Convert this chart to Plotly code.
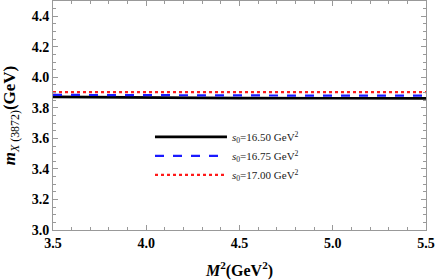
import plotly.graph_objects as go

m2 = [3.5, 4.0, 4.5, 5.0, 5.5]
mass_s1650 = [3.872, 3.867, 3.864, 3.863, 3.862]
mass_s1675 = [3.885, 3.882, 3.881, 3.880, 3.880]
mass_s1700 = [3.903, 3.903, 3.903, 3.903, 3.903]
labels = ["<i>s</i><sub>0</sub>=16.50 GeV<sup>2</sup>",
          "<i>s</i><sub>0</sub>=16.75 GeV<sup>2</sup>",
          "<i>s</i><sub>0</sub>=17.00 GeV<sup>2</sup>"]
x_ticks = [3.5, 4.0, 4.5, 5.0, 5.5]
x_ticklabels = ["3.5", "4.0", "4.5", "5.0", "5.5"]
y_ticks = [3.0, 3.2, 3.4, 3.6, 3.8, 4.0, 4.2, 4.4]
y_ticklabels = ["3.0", "3.2", "3.4", "3.6", "3.8", "4.0", "4.2", "4.4"]

serif = "Liberation Serif"
fig = go.Figure()
fig.add_trace(go.Scatter(x=m2, y=mass_s1650, mode="lines", name=labels[0],
                         line=dict(color="black", width=2.6, dash="solid")))
fig.add_trace(go.Scatter(x=m2, y=mass_s1675, mode="lines", name=labels[1],
                         line=dict(color="#1a1aff", width=2.2, dash="dash")))
fig.add_trace(go.Scatter(x=m2, y=mass_s1700, mode="lines", name=labels[2],
                         line=dict(color="#ff1a1a", width=2.2, dash="dot")))

axis_common = dict(showgrid=False, zeroline=False, showline=True, linecolor="#999999",
                   linewidth=1, mirror="ticks", ticks="inside", tickcolor="#999999",
                   ticklen=5, tickwidth=1, ticklabeloverflow="allow", automargin=False,
                   tickfont=dict(family=serif, size=14, color="black"))

fig.update_layout(
    width=436, height=280,
    margin=dict(l=53, r=10, t=1, b=50),
    paper_bgcolor="white", plot_bgcolor="white",
    showlegend=True,
    legend=dict(x=0.26, y=0.47, xanchor="left", yanchor="top",
                bgcolor="rgba(0,0,0,0)", font=dict(family=serif, size=11, color="#222"),
                itemwidth=72, tracegroupgap=0),
    xaxis=dict(range=[3.5, 5.5], tickmode="array", tickvals=x_ticks,
               ticktext=["<b>" + t + "</b>" for t in x_ticklabels],
               minor=dict(dtick=0.1, tick0=3.5, ticklen=3, tickcolor="#999999", ticks="inside"),
               title=dict(text="<b><i>M</i><sup>2</sup>(GeV<sup>2</sup>)</b>",
                          font=dict(family=serif, size=16, color="black")),
               **axis_common),
    yaxis=dict(range=[3.0, 4.5], tickmode="array", tickvals=y_ticks,
               ticktext=["<b>" + t + "</b>" for t in y_ticklabels],
               minor=dict(dtick=0.05, tick0=3.0, ticklen=3, tickcolor="#999999", ticks="inside"),
               title=dict(text="<b><i>m</i></b><sub><i>X</i> (3872)</sub><b>(GeV)</b>",
                          font=dict(family=serif, size=17, color="black")),
               **axis_common),
)

fig.write_html("out.html", config={"displayModeBar": False},
               post_script="document.body.style.margin='0';")
